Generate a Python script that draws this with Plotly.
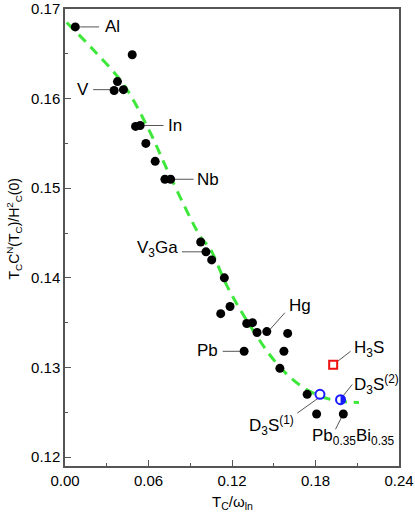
import plotly.graph_objects as go

# 数据点 (Tc/ω_ln, Tc C^N(Tc)/Hc^2(0))
x_pts = [0.0074, 0.0483, 0.0377, 0.0353, 0.042, 0.0507, 0.054, 0.0581, 0.0648,
         0.0718, 0.0759, 0.0975, 0.1013, 0.1054, 0.1145, 0.1186, 0.1119, 0.1306,
         0.1347, 0.138, 0.145, 0.160, 0.1287, 0.1573, 0.1544, 0.174, 0.1808, 0.200]
y_pts = [0.168, 0.1649, 0.1619, 0.1609, 0.161, 0.1569, 0.157, 0.155, 0.153,
         0.151, 0.151, 0.144, 0.1429, 0.142, 0.140, 0.1368, 0.136, 0.1349,
         0.135, 0.1339, 0.134, 0.1338, 0.1318, 0.1318, 0.1299, 0.127, 0.1248, 0.1248]

# D3S, H3S
d3s1 = (0.1832, 0.127)
d3s2 = (0.198, 0.1264)
h3s = (0.1927, 0.1303)

# 绿色虚线
curve_x = [0.0012, 0.02, 0.042, 0.06, 0.0757, 0.0973, 0.1044, 0.1164, 0.1332,
           0.1524, 0.169, 0.1836, 0.198, 0.2112]
curve_y = [0.1685, 0.1655, 0.1616, 0.1566, 0.1513, 0.1446, 0.1432, 0.1391, 0.1346,
           0.1304, 0.128, 0.1268, 0.1262, 0.1261]

# 标签: 文字, 引线起点, 引线终点, 文字位置, 对齐
labels = [
    ("Al", (0.0109, 0.168), (0.0245, 0.168), (0.027, 0.168), "left"),
    ("V", (0.0346, 0.161), (0.0202, 0.161), (0.0185, 0.161), "right"),
    ("In", (0.0564, 0.157), (0.0708, 0.157), (0.0725, 0.157), "left"),
    ("Nb", (0.0768, 0.151), (0.0924, 0.151), (0.0935, 0.151), "left"),
    ("V<sub>3</sub>Ga", (0.101, 0.1429), (0.084, 0.1429), (0.0828, 0.1432), "right"),
    ("Hg", (0.1465, 0.1341), (0.158, 0.1361), (0.1595, 0.1369), "left"),
    ("Pb", (0.1255, 0.1318), (0.1133, 0.1318), (0.1112, 0.1319), "right"),
    ("H<sub>3</sub>S", (0.1952, 0.1306), (0.2052, 0.1318), (0.2062, 0.1321), "left"),
    ("D<sub>3</sub>S<sup>(2)</sup>", (0.1992, 0.1267), (0.2064, 0.1281), (0.2062, 0.1281), "left"),
    ("D<sub>3</sub>S<sup>(1)</sup>", (0.1822, 0.1266), (0.1669, 0.1249), (0.1662, 0.1235), "right"),
    ("Pb<sub>0.35</sub>Bi<sub>0.35</sub>", (0.1992, 0.1246), (0.1944, 0.1231), (0.2075, 0.1222), "center"),
]

FONT = "Liberation Sans, Arial, sans-serif"
BLUE = "#1a1aff"

fig = go.Figure()

fig.add_trace(go.Scatter(x=curve_x, y=curve_y, mode="lines", line_shape="spline",
                         line=dict(color="#3ee83a", width=3, dash="10px,7px")))

for text, p0, p1, pt, anchor in labels:
    fig.add_trace(go.Scatter(x=[p0[0], p1[0]], y=[p0[1], p1[1]], mode="lines",
                             line=dict(color="#555555", width=1)))
    fig.add_annotation(x=pt[0], y=pt[1], text=text, showarrow=False,
                       xanchor=anchor, yanchor="middle",
                       font=dict(family=FONT, size=17, color="black"))

fig.add_trace(go.Scatter(x=x_pts, y=y_pts, mode="markers",
                         marker=dict(color="black", size=9)))

fig.add_trace(go.Scatter(x=[d3s1[0], d3s2[0]], y=[d3s1[1], d3s2[1]], mode="markers",
                         marker=dict(color="white", size=9, symbol="circle",
                                     line=dict(color=BLUE, width=2))))
fig.add_trace(go.Scatter(x=[h3s[0]], y=[h3s[1]], mode="markers",
                         marker=dict(color="white", size=8, symbol="square",
                                     line=dict(color="#ee1111", width=2))))

# 半填充圆 (右半)
r, k = 4.5, 0.552 * 4.5
fig.add_shape(type="path", xref="x", yref="y", xsizemode="pixel", ysizemode="pixel",
              xanchor=d3s2[0], yanchor=d3s2[1], layer="above",
              path=f"M 0,{r} C {k},{r} {r},{k} {r},0 C {r},{-k} {k},{-r} 0,{-r} Z",
              fillcolor=BLUE, line=dict(width=0))

# 坐标轴标题
fig.add_annotation(xref="paper", yref="paper", x=0, y=0.5, xshift=-51, yshift=8,
                   textangle=-90, showarrow=False, xanchor="center", yanchor="middle",
                   text="T<sub>C</sub>C<sup>N</sup>(T<sub>C</sub>)/H<sup>2</sup><sub>C</sub>(0)",
                   font=dict(family=FONT, size=14, color="black"))
fig.add_annotation(xref="paper", yref="paper", x=0.5, y=0, yshift=-36,
                   showarrow=False, xanchor="center", yanchor="middle",
                   text="T<sub>C</sub>/ω<sub>ln</sub>",
                   font=dict(family=FONT, size=15, color="black"))

axis_common = dict(showline=True, linecolor="#555555", linewidth=1.5, mirror=True,
                   ticks="inside", ticklen=6, tickcolor="#555555", showgrid=False,
                   zeroline=False, automargin=False,
                   tickfont=dict(family=FONT, size=15, color="black"),
                   minor=dict(ticks="inside", ticklen=3, tickcolor="#555555"))

fig.update_layout(
    width=415, height=524,
    margin=dict(l=65, r=16, t=9, b=58),
    plot_bgcolor="white", paper_bgcolor="white",
    showlegend=False,
    font=dict(family=FONT, color="black"),
    xaxis=dict(range=[0, 0.24], tickvals=[0, 0.06, 0.12, 0.18, 0.24],
               ticktext=["0.00", "0.06", "0.12", "0.18", "0.24"], **axis_common),
    yaxis=dict(range=[0.119, 0.17], tickvals=[0.12, 0.13, 0.14, 0.15, 0.16, 0.17],
               ticktext=["0.12", "0.13", "0.14", "0.15", "0.16", "0.17"], **axis_common),
)
fig.update_xaxes(minor=dict(dtick=0.03))
fig.update_yaxes(minor=dict(dtick=0.005))

# 去掉页面默认边距, 让图从左上角开始
fig.write_html("out.html", config={"displayModeBar": False},
               post_script="document.body.style.margin='0px';")
